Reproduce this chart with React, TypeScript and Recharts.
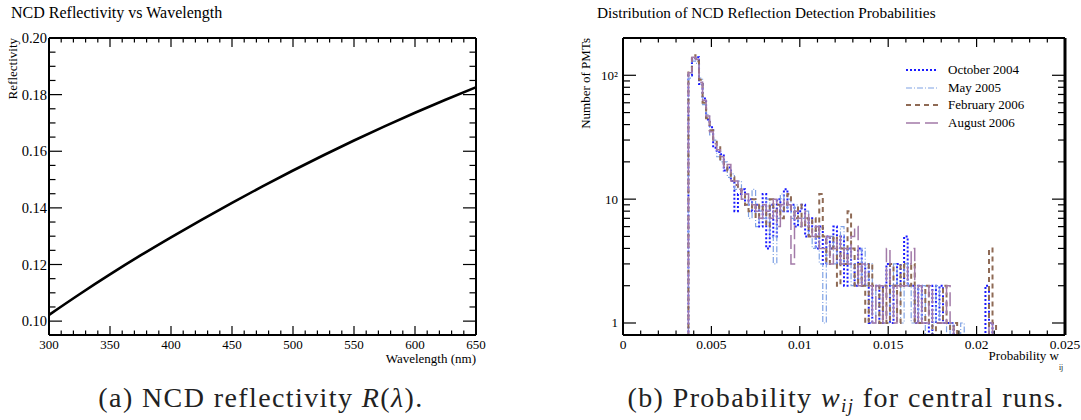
import { Legend, Line, LineChart, XAxis, YAxis } from "recharts";

const FONT = "Liberation Serif, Tinos, DejaVu Serif, serif";

// (a) reflectivity curve
const wavelengths = [300, 325, 350, 375, 400, 425, 450, 475, 500, 525, 550, 575, 600, 625, 650];
const reflectivity = [
  0.1022, 0.1095, 0.1165, 0.1232, 0.1296, 0.1358, 0.1418, 0.1476, 0.1532, 0.1586, 0.1638,
  0.1688, 0.1736, 0.1782, 0.1826,
];
const wlMajorTicks = [300, 350, 400, 450, 500, 550, 600, 650];
const reflMajorTicks = [0.1, 0.12, 0.14, 0.16, 0.18, 0.2];

// (b) histograms, bins of 0.0002 starting at 0.0037
const binStart = 0.0037;
const binWidth = 0.0002;
const oct2004 = [
  100, 135, 140, 85, 65, 44, 38, 26, 24, 23,
  17, 18, 14, 8, 11, 12, 9, 10, 8, 9,
  6, 11, 4, 9, 5, 10, 8, 12, 8, 9,
  6, 8, 9, 5, 7, 6, 4, 6, 3, 5,
  4, 6, 3, 5, 2, 4, 3, 2, 4, 2,
  3, 1, 2, 2, 1, 2, 3, 1, 2, 3,
  2, 5, 2, 2, 1, 2, 1, 1, 0, 2,
  1, 2, 1, 1, 1, 0, 0, 0, 0, 0,
  0, 0, 0, 0, 2, 1, 0,
];
const may2005 = [
  95, 130, 125, 95, 58, 48, 33, 30, 22, 20,
  20, 15, 16, 12, 14, 10, 11, 7, 12, 6,
  8, 7, 10, 5, 3, 7, 11, 8, 10, 7,
  9, 6, 7, 8, 5, 4, 6, 3, 1, 4,
  5, 3, 4, 6, 3, 4, 2, 3, 2, 4,
  2, 3, 1, 2, 2, 1, 1, 2, 3, 2,
  1, 3, 2, 1, 2, 1, 2, 0, 0, 1,
  2, 1, 1, 0, 1, 0, 0, 1, 0, 0,
  0, 0, 0, 0, 0, 1, 0,
];
const feb2006 = [
  110, 145, 130, 92, 60, 45, 36, 29, 27, 21,
  19, 17, 15, 13, 12, 11, 9, 8, 10, 7,
  9, 8, 6, 10, 8, 9, 7, 9, 11, 8,
  7, 9, 6, 7, 5, 7, 5, 11, 5, 3,
  4, 5, 2, 4, 3, 8, 4, 2, 3, 2,
  1, 3, 2, 2, 1, 2, 1, 3, 2, 1,
  3, 2, 2, 3, 1, 1, 1, 2, 1, 0,
  1, 1, 2, 1, 0, 1, 0, 0, 0, 0,
  0, 0, 0, 0, 0, 4, 1,
];
const aug2006 = [
  105, 140, 135, 88, 63, 47, 35, 28, 25, 22,
  18, 19, 14, 14, 12, 10, 11, 9, 9, 8,
  7, 9, 8, 7, 10, 6, 9, 10, 9, 3,
  8, 7, 6, 8, 6, 5, 6, 4, 4, 5,
  3, 4, 5, 3, 4, 3, 5, 6, 2, 3,
  2, 2, 1, 2, 2, 1, 4, 2, 1, 2,
  2, 2, 3, 4, 1, 2, 1, 1, 2, 1,
  1, 1, 1, 2, 1, 0, 0, 0, 0, 0,
  0, 0, 0, 0, 0, 1, 0,
];
const seriesKeys = ["oct2004", "may2005", "feb2006", "aug2006"];
const seriesNames = ["October 2004", "May 2005", "February 2006", "August 2006"];
const probMajorTicks = [0, 0.005, 0.01, 0.015, 0.02, 0.025];
const probLabels = ["0", "0.005", "0.01", "0.015", "0.02", "0.025"];
const countMajorTicks = [1, 10, 100];
const countLabels = ["1", "10", "10\u00b2"];

const seriesStyle: Record<string, { stroke: string; width: number; dash: string }> = {
  oct2004: { stroke: "#1a1aff", width: 2, dash: "2 2" },
  may2005: { stroke: "#7ea1e4", width: 1.2, dash: "6 2 1 2" },
  feb2006: { stroke: "#8f6a55", width: 2, dash: "5 4" },
  aug2006: { stroke: "#a27aa8", width: 1.5, dash: "14 5" },
};

function range(start: number, stop: number, step: number) {
  const out: number[] = [];
  for (let v = start; v <= stop + step / 2; v += step) out.push(+v.toFixed(6));
  return out;
}

const wlTicks = range(300, 650, 10);
const reflTicks = range(0.1, 0.2, 0.005);
const probTicks = range(0, 0.025, 0.001);
const countTicks = [1, 2, 3, 4, 5, 6, 7, 8, 9, 10, 20, 30, 40, 50, 60, 70, 80, 90, 100];

const reflData = wavelengths.map((wl, i) => ({ wl, r: reflectivity[i] }));

// empty bins sit on the bottom of the log frame
const FLOOR = 0.8;
const allSeries = [oct2004, may2005, feb2006, aug2006];
const emptyRow = (w: number) => {
  const row: Record<string, number> = { w };
  seriesKeys.forEach((k) => (row[k] = FLOOR));
  return row;
};
const histData = [
  emptyRow(0),
  ...oct2004.map((_, i) => {
    const row: Record<string, number> = { w: +(binStart + i * binWidth).toFixed(5) };
    seriesKeys.forEach((k, s) => (row[k] = allSeries[s][i] > 0 ? allSeries[s][i] : FLOOR));
    return row;
  }),
  emptyRow(+(binStart + oct2004.length * binWidth).toFixed(5)),
  emptyRow(0.025),
];

type Side = "left" | "right" | "top" | "bottom";
interface TickOpts {
  side: Side;
  majors: number[];
  labels?: string[];
  majorLen: number;
  minorLen: number;
  fontSize?: number;
  gap?: number;
}

function makeTick(o: TickOpts) {
  return (p: any) => {
    const { x, y, payload } = p;
    const v = payload.value;
    const mi = o.majors.findIndex((m) => Math.abs(m - v) < 1e-9);
    const len = mi >= 0 ? o.majorLen : o.minorLen;
    let line;
    if (o.side === "left") line = <line x1={x} y1={y} x2={x + len} y2={y} />;
    else if (o.side === "right") line = <line x1={x} y1={y} x2={x - len} y2={y} />;
    else if (o.side === "top") line = <line x1={x} y1={y} x2={x} y2={y + len} />;
    else line = <line x1={x} y1={y} x2={x} y2={y - len} />;
    let label = null;
    if (mi >= 0 && o.labels) {
      const gap = o.gap ?? 3;
      label =
        o.side === "left" ? (
          <text x={x - gap} y={y} textAnchor="end" dominantBaseline="central" fontSize={o.fontSize} fill="#000" stroke="none" style={{ fontFamily: FONT }}>
            {o.labels[mi]}
          </text>
        ) : (
          <text x={x} y={y + gap} textAnchor="middle" fontSize={o.fontSize} fill="#000" stroke="none" style={{ fontFamily: FONT }}>
            {o.labels[mi]}
          </text>
        );
    }
    return (
      <g stroke="#000" strokeWidth={1.2}>
        {line}
        {label}
      </g>
    );
  };
}

const frameLine = { stroke: "#000", strokeWidth: 2 };

function HistLegend() {
  return (
    <div style={{ fontFamily: FONT, fontSize: 13, color: "#000" }}>
      {seriesKeys.map((k, i) => (
        <div key={k} style={{ display: "flex", alignItems: "center", height: 17.7 }}>
          <svg width={32} height={6}>
            <line
              x1={0}
              y1={3}
              x2={32}
              y2={3}
              stroke={seriesStyle[k].stroke}
              strokeWidth={seriesStyle[k].width}
              strokeDasharray={seriesStyle[k].dash}
            />
          </svg>
          <span style={{ marginLeft: 10, whiteSpace: "nowrap" }}>{seriesNames[i]}</span>
        </div>
      ))}
    </div>
  );
}

export default function App() {
  return (
    <div style={{ position: "absolute", left: 0, top: 0, width: 1081, height: 420, background: "#fff", overflow: "hidden", fontFamily: FONT }}>
      <div style={{ position: "absolute", left: 0, top: 0 }}>
        <LineChart width={540} height={420} data={reflData} margin={{ top: 0, right: 0, bottom: 0, left: 0 }}>
          <XAxis
            xAxisId="b"
            dataKey="wl"
            type="number"
            domain={[300, 650]}
            ticks={wlTicks}
            interval={0}
            height={85}
            tickSize={0}
            tickMargin={0}
            tickLine={false}
            axisLine={frameLine}
            tick={makeTick({ side: "bottom", majors: wlMajorTicks, labels: wlMajorTicks.map(String), majorLen: 9, minorLen: 4.5, fontSize: 13, gap: 14.3 })}
          />
          <XAxis
            xAxisId="t"
            orientation="top"
            dataKey="wl"
            type="number"
            domain={[300, 650]}
            ticks={wlTicks}
            interval={0}
            height={38}
            tickSize={0}
            tickMargin={0}
            tickLine={false}
            axisLine={frameLine}
            tick={makeTick({ side: "top", majors: wlMajorTicks, majorLen: 9, minorLen: 4.5 })}
          />
          <YAxis
            yAxisId="l"
            type="number"
            domain={[0.0951, 0.2]}
            ticks={reflTicks}
            interval={0}
            width={49}
            allowDataOverflow
            tickSize={0}
            tickMargin={0}
            tickLine={false}
            axisLine={frameLine}
            tick={makeTick({ side: "left", majors: reflMajorTicks, labels: reflMajorTicks.map((v) => v.toFixed(2)), majorLen: 13, minorLen: 6.5, fontSize: 14.5, gap: 2 })}
          />
          <YAxis
            yAxisId="r"
            orientation="right"
            type="number"
            domain={[0.0951, 0.2]}
            ticks={reflTicks}
            interval={0}
            width={64}
            allowDataOverflow
            tickSize={0}
            tickMargin={0}
            tickLine={false}
            axisLine={frameLine}
            tick={makeTick({ side: "right", majors: reflMajorTicks, majorLen: 13, minorLen: 6.5 })}
          />
          <Line
            xAxisId="b"
            yAxisId="l"
            type="monotone"
            dataKey="r"
            stroke="#000"
            strokeWidth={2.6}
            dot={false}
            isAnimationActive={false}
          />
        </LineChart>
      </div>

      <div style={{ position: "absolute", left: 540, top: 0 }}>
        <LineChart width={541} height={420} data={histData} margin={{ top: 0, right: 0, bottom: 0, left: 0 }}>
          <XAxis
            xAxisId="b"
            dataKey="w"
            type="number"
            domain={[0, 0.025]}
            ticks={probTicks}
            interval={0}
            height={85}
            tickSize={0}
            tickMargin={0}
            tickLine={false}
            axisLine={frameLine}
            tick={makeTick({ side: "bottom", majors: probMajorTicks, labels: probLabels, majorLen: 9, minorLen: 4.5, fontSize: 13.5, gap: 14 })}
          />
          <XAxis
            xAxisId="t"
            orientation="top"
            dataKey="w"
            type="number"
            domain={[0, 0.025]}
            ticks={probTicks}
            interval={0}
            height={38}
            tickSize={0}
            tickMargin={0}
            tickLine={false}
            axisLine={frameLine}
            tick={makeTick({ side: "top", majors: probMajorTicks, majorLen: 9, minorLen: 4.5 })}
          />
          <YAxis
            yAxisId="l"
            type="number"
            scale="log"
            domain={[FLOOR, 200]}
            ticks={countTicks}
            interval={0}
            width={83}
            allowDataOverflow
            tickSize={0}
            tickMargin={0}
            tickLine={false}
            axisLine={frameLine}
            tick={makeTick({ side: "left", majors: countMajorTicks, labels: countLabels, majorLen: 13, minorLen: 7, fontSize: 13, gap: 5 })}
          />
          <YAxis
            yAxisId="r"
            orientation="right"
            type="number"
            scale="log"
            domain={[FLOOR, 200]}
            ticks={countTicks}
            interval={0}
            width={16}
            allowDataOverflow
            tickSize={0}
            tickMargin={0}
            tickLine={false}
            axisLine={{ stroke: "#000", strokeWidth: 3 }}
            tick={makeTick({ side: "right", majors: countMajorTicks, majorLen: 13, minorLen: 7 })}
          />
          {seriesKeys.map((k, i) => (
            <Line
              key={k}
              xAxisId="b"
              yAxisId="l"
              type="stepAfter"
              dataKey={k}
              name={seriesNames[i]}
              stroke={seriesStyle[k].stroke}
              strokeWidth={seriesStyle[k].width}
              strokeDasharray={seriesStyle[k].dash}
              dot={false}
              isAnimationActive={false}
            />
          ))}
          <Legend
            layout="vertical"
            align="center"
            verticalAlign="middle"
            content={<HistLegend />}
            wrapperStyle={{ left: 366, top: 61, width: "auto", height: "auto" }}
          />
        </LineChart>
      </div>

      <svg width={1081} height={420} style={{ position: "absolute", left: 0, top: 0, pointerEvents: "none", fontFamily: FONT }} fill="#000">
        <text x={11} y={17.5} fontSize={16}>NCD Reflectivity vs Wavelength</text>
        <text x={597} y={18} fontSize={15.3}>Distribution of NCD Reflection Detection Probabilities</text>

        <text x={16.5} y={38} fontSize={13} textAnchor="end" transform="rotate(-90 16.5 38)">Reflectivity</text>
        <text x={476} y={362.5} fontSize={13} textAnchor="end">Wavelength (nm)</text>

        <text x={590} y={38} fontSize={13} textAnchor="end" transform="rotate(-90 590 38)">Number of PMTs</text>
        <text x={1059} y={360} fontSize={13} textAnchor="end">Probability w</text>
        <text x={1059} y={370} fontSize={7.5}>ij</text>

        <text x={261} y={407} fontSize={28} letterSpacing={1.4} textAnchor="middle" fill="#222">
          (a) NCD reflectivity <tspan fontStyle="italic">R</tspan>(<tspan fontStyle="italic">λ</tspan>).
        </text>
        <text x={846} y={407} fontSize={28} letterSpacing={1.4} textAnchor="middle" fill="#222">
          (b) Probability <tspan fontStyle="italic">w</tspan>
          <tspan fontStyle="italic" fontSize={19} dy={5}>ij</tspan>
          <tspan dy={-5}> for central runs.</tspan>
        </text>
      </svg>
    </div>
  );
}
